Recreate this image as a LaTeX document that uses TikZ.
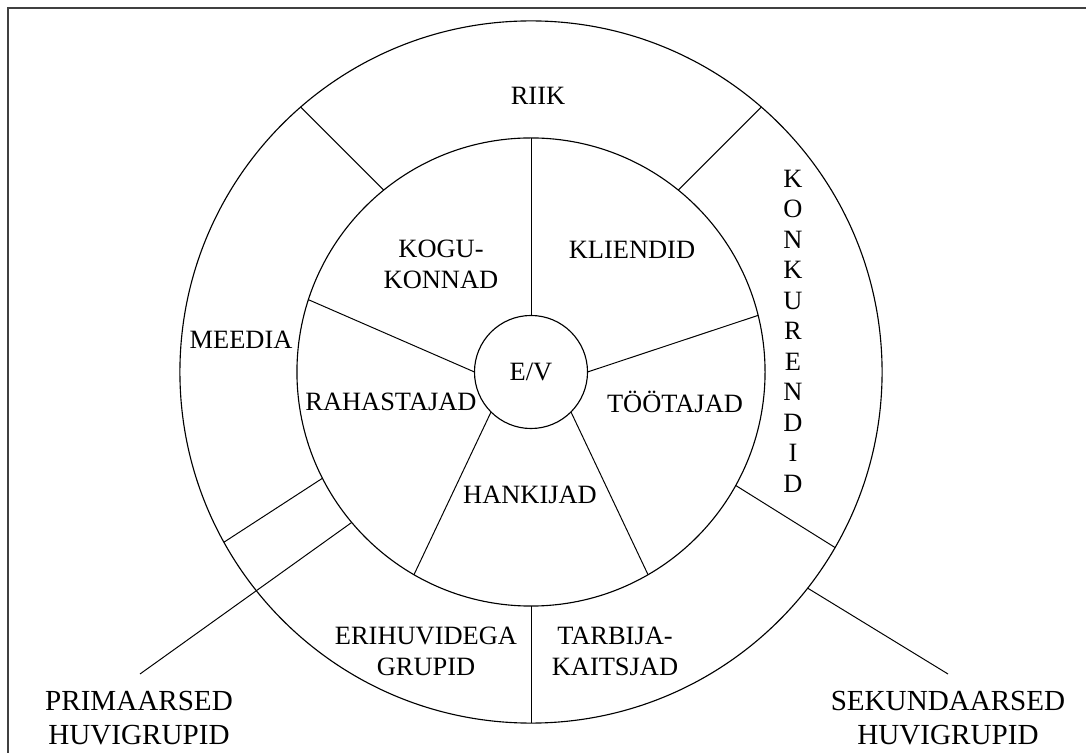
\documentclass[tikz,border=0pt]{standalone}
\usepackage{fontspec}
\setmainfont{Liberation Serif}
\usetikzlibrary{positioning}
\tikzset{
  ring/.style={
    shape = circle,
    draw,
    inner sep = 0,
    outer sep = 0,
    line width = 0.8pt
  },
  party/.style={
    font = \fontsize{18.8}{22}\selectfont,
    align = center,
    inner sep = 1pt
  },
  party_big/.style={
    font = \fontsize{20.7}{23.7}\selectfont,
    align = center,
    inner sep = 1pt
  },
  spoke/.style={
    line width = 0.7pt
  }
}

\begin{document}
\begin{tikzpicture}[x=0.025cm, y=-0.025cm]
    \useasboundingbox (0,0) rectangle (1086,753);
    \draw[line width=1pt, black!75] (8,8) rectangle (1100,770);
    \node[ring, minimum size=17.55cm] (outer) at (531,372) {};
    \node[ring, minimum size=11.7cm] (inner) at (531,372) {};
    \node[party, ring, minimum size=2.825cm] (ev) at (531,372) {E/V};
    % inner spokes
    \draw[spoke] (ev.north) -- (inner.north);
    \draw[spoke] (ev.east) -- (inner.14);
    \draw[spoke] (ev.west) -- (inner.162);
    \draw[spoke] (ev.south west) -- (inner.240);
    \draw[spoke] (ev.south east) -- (inner.300);
    % outer ring
    \draw[spoke] (inner.129) -- (outer.131);
    \draw[spoke] (inner.51) -- (outer.49);
    \draw[spoke] (inner.south) -- (outer.south);
    \draw[spoke] (inner.-29) -- (outer.-30);
    \draw[spoke] (inner.207) -- (outer.209.5);
    \coordinate (prim) at (140,674);
    \coordinate (sek) at (948,674);
    \draw[spoke] (inner.220) -- (prim);
    \draw[spoke] (outer.-38) -- (sek);
    \node[party] (riik) at (538,96) {RIIK};
    \node[party] (kogukonnad) at (441,264) {KOGU-\\KONNAD};
    \node[party] (kliendid) at (632,250) {KLIENDID};
    \node[party] (meedia) at (241,340) {MEEDIA};
    \node[party] (rahastajad) at (391,402) {RAHASTAJAD};
    \node[party] (tootajad) at (675,402) {TÖÖTAJAD};
    \node[party] (hankijad) at (530,495) {HANKIJAD};
    \node[party] (erihuvid) at (426,651) {ERIHUVIDEGA\\GRUPID};
    \node[party] (tarbija) at (615,651) {TARBIJA-\\KAITSJAD};
    \node[party, font=\fontsize{18.8}{21.7}\selectfont] (konkurendid) at (793,331)
        {K\\O\\N\\K\\U\\R\\E\\N\\D\\I\\D};
    \node[party_big] (primaarsed) at (139,718) {PRIMAARSED\\HUVIGRUPID};
    \node[party_big] (sekundaarsed) at (948,718) {SEKUNDAARSED\\HUVIGRUPID};
\end{tikzpicture}
\end{document}
